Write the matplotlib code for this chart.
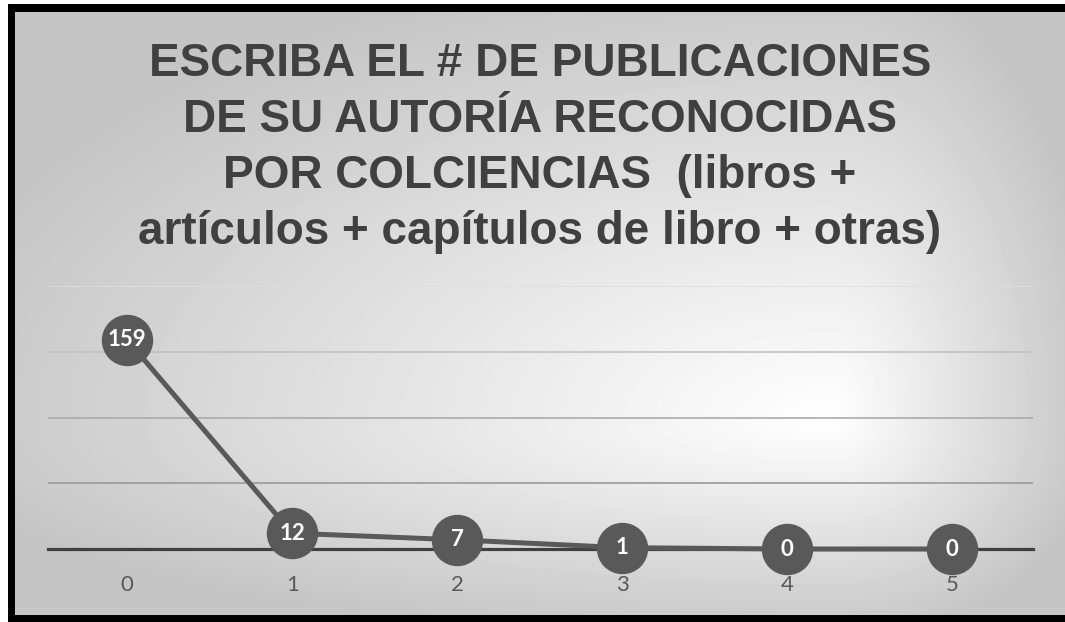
import numpy as np
import matplotlib
matplotlib.use("Agg")
import matplotlib.pyplot as plt

# datos
categorias = [0, 1, 2, 3, 4, 5]
valores = [159, 12, 7, 1, 0, 0]
ticks_y = [0, 50, 100, 150, 200]
titulo = ("ESCRIBA EL # DE PUBLICACIONES\n"
          "DE SU AUTORÍA RECONOCIDAS\n"
          "POR COLCIENCIAS  (libros +\n"
          "artículos + capítulos de libro + otras)")

W, H = 1065, 622
fig = plt.figure(figsize=(W / 100, H / 100), dpi=100, facecolor="white")

# fondo: marco negro + degradado desde un punto
x0, x1, y0, y1 = 15, W, 12, 615
cx, cy = 830, 420
xx, yy = np.meshgrid(np.arange(x0, x1), np.arange(y0, y1))
u = np.where(xx < cx, (cx - xx) / (cx - x0), (xx - cx) / (x1 - cx))
v = np.where(yy < cy, (cy - yy) / (cy - y0), (yy - cy) / (y1 - cy))
t = np.clip(np.sqrt(u ** 2 + v ** 2) / 1.15, 0, 1)
img = np.ones((H, W))
img[4:, 8:] = 0.0
img[y0:y1, x0:x1] = 1.0 - 0.23 * t
fig.figimage(img, cmap="gray", vmin=0, vmax=1, origin="upper", zorder=-5)

# area de trazado
px0, px1, py_top, py_bot = 48, 1033, 286, 549
ax = fig.add_axes([px0 / W, 1 - py_bot / H, (px1 - px0) / W, (py_bot - py_top) / H])
ax.set_facecolor("none")
ax.set_xlim(-0.48, 5.49)
ax.set_ylim(0, 200)
ax.set_yticks(ticks_y)
ax.set_xticks(categorias)
ax.set_xticklabels([str(c) for c in categorias], fontsize=16, color="#595959", family="Lato")
ax.tick_params(axis="x", length=0, pad=19)
ax.tick_params(axis="y", length=0, labelleft=False)
for s in ax.spines.values():
    s.set_visible(False)
ax.set_axisbelow(True)
ax.grid(axis="y", linewidth=1.2)
grid_cols = ["#404040", "#9a9a9a", "#ababab", "#c2c2c2", "#dedede"]
for gl, c in zip(ax.get_ygridlines(), grid_cols):
    gl.set_color(c)
ax.axhline(0, color="#404040", linewidth=2.3, zorder=1, clip_on=False)

ax.plot(categorias, valores, color="#595959", linewidth=3.6, marker="o",
        markersize=36, markerfacecolor="#595959", markeredgecolor="#595959",
        zorder=3, clip_on=False)
for c, v in zip(categorias, valores):
    ax.text(c, v, str(v), ha="center", va="center", color="white",
            fontsize=16, fontweight="bold", family="Lato", zorder=4)

fig.text(540 / W, 1 - 42 / H, titulo, ha="center", va="top", fontsize=33,
         fontweight="bold", color="#404040", family="Liberation Sans",
         linespacing=1.35)

fig.savefig("out.png", dpi=100)
